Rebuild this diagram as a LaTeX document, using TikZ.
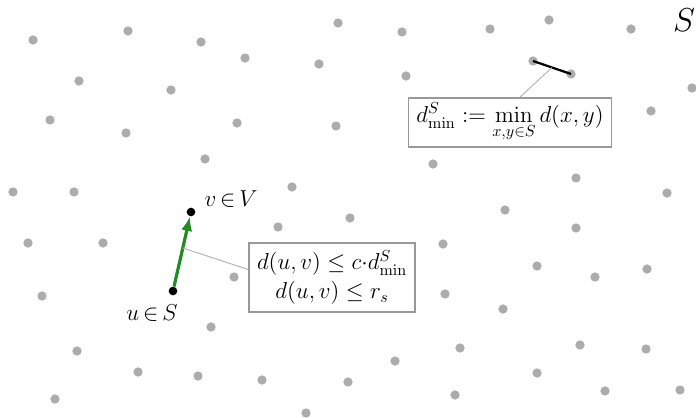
\documentclass[tikz,border=0pt]{standalone}
\usepackage{amsmath,amssymb}
\usetikzlibrary{arrows.meta,positioning,calc}
\definecolor{arrgreen}{RGB}{34,139,34}

\begin{document}
\begin{tikzpicture}[x=0.625pt,y=-0.625pt,
  dot/.style={circle,fill=gray!65,inner sep=0pt,minimum size=5.8pt},
  vtx/.style={circle,fill=black,inner sep=0pt,minimum size=5.4pt},
  box/.style={draw=gray!80,line width=0.9pt,fill=white,align=center,
              font=\Large,inner sep=2pt},
  lab/.style={font=\Large,inner sep=1pt},
  pin/.style={gray!60,line width=0.6pt},
  a/.style={-{Latex[length=9pt,width=7pt]},arrgreen,line width=2pt}]
\useasboundingbox (0,0) rectangle (696,418);
% the sample S
\foreach \x/\y in {33/40,128/31,201/42,245/58,338/23,402/32,490/29,549/20,
  631/29,319/64,79/81,171/90,406/76,692/88,50/120,126/133,237/123,
  336/126,651/111,205/159,433/164,576/178,13/192,74/192,292/187,667/193,
  505/210,350/218,278/227,576/228,28/243,103/243,443/244,537/266,595/277,
  647/269,234/277,42/296,445/294,503/309,211/327,77/351,460/348,580/345,
  646/349,395/361,138/372,198/376,262/380,348/382,537/373,55/399,455/395,
  605/391,680/390,306/413}
  \node[dot] at (\x,\y) {};
\node[dot] (x1) at (533,61) {};
\node[dot] (x2) at (571,74) {};
\node[font=\huge] (lS) at (684,20) {$S$};
% closest pair
\draw[line width=1.4pt] (x1.center) -- (x2.center) coordinate[pos=0.5] (xm);
\node[box,minimum width=127pt,minimum height=30.5pt] (dmin) at (510,122.5)
  {$d^S_{\min} := \min\limits_{x,y\in S} d(x,y)$};
\draw[pin] (xm) -- ([xshift=6pt]dmin.north);
% u and v
\node[vtx] (u) at (173,291) {};
\node[vtx] (v) at (191,212) {};
\node[lab] (lu) at (152,313) {$u\,{\in}\,S$};
\node[lab] (lv) at (231,199) {$v\,{\in}\,V$};
\draw[a] (u) -- (v) coordinate[pos=0.55] (uvm);
\node[box,minimum width=104pt,minimum height=43pt] (cond) at (332,277.5)
  {$d(u,v)\leq c{\cdot}d^S_{\min}$\\$d(u,v)\leq r_s$};
\draw[pin] (uvm) -- ([yshift=5pt]cond.west);
\end{tikzpicture}
\end{document}
